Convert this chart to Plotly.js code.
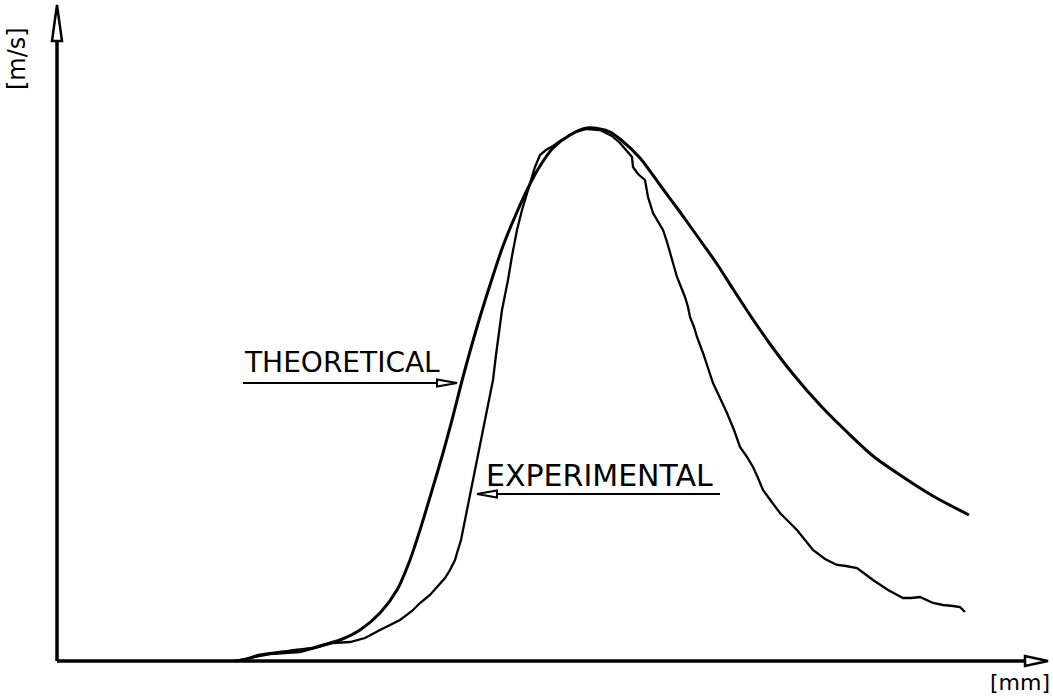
<!DOCTYPE html>
<html>
<head>
<meta charset="utf-8">
<script src="https://cdn.plot.ly/plotly-3.0.1.min.js"></script>
<style>
  html, body { margin: 0; padding: 0; background: #ffffff; }
  #chart { width: 1053px; height: 699px; }
</style>
</head>
<body>
<div id="chart"></div>
<script>
// Velocity profile along the measured section, distance in mm, velocity in m/s.
// Theoretical profile (smooth curve)
const theoX = [178, 186, 203, 233, 256, 266, 283, 303, 323, 340, 353, 363, 376, 386, 395, 406,
  420, 433, 446, 460, 473, 483, 496, 513, 530, 543, 553, 563, 583, 603, 623, 643, 660, 676,
  693, 713, 736, 763, 790, 816, 843, 876, 912];
const theoY = [0, 1, 6, 10, 13, 16, 21, 31, 48, 71, 101, 131, 174, 208, 241, 284,
  334, 376, 415, 449, 477, 495, 513, 526, 533, 532, 529, 522, 503, 476, 449, 421, 397, 372,
  346, 317, 287, 256, 229, 205, 186, 165, 146];

// Experimental profile (measured trace)
const expX = [178, 193, 213, 243, 266, 276, 293, 308, 323, 343, 355, 363, 373, 380, 388, 393,
  398, 400, 404, 406, 408, 410, 413, 416, 418, 421, 424, 428, 430, 433, 436, 439, 443, 445,
  448, 451, 455, 460, 465, 470, 474, 478, 483, 489, 496, 503, 510, 518, 530, 543, 555, 563,
  569, 575, 576, 581, 588, 590, 591, 596, 601, 606, 610, 613, 617, 620, 624, 628, 631, 633,
  637, 640, 646, 651, 656, 663, 670, 677, 683, 690, 696, 701, 706, 714, 723, 732, 740, 748,
  756, 768, 780, 789, 800, 808, 816, 831, 846, 854, 863, 876, 886, 896, 903, 908];
const expY = [0, 3, 7, 9, 15, 18, 19, 23, 31, 41, 50, 58, 66, 74, 83, 91,
  101, 108, 121, 131, 141, 151, 166, 181, 194, 208, 224, 241, 253, 268, 281, 306, 334, 351,
  366, 381, 405, 431, 451, 468, 481, 494, 506, 511, 515, 520, 524, 529, 532, 531, 525, 518,
  511, 504, 494, 487, 481, 471, 464, 448, 439, 431, 419, 408, 396, 384, 374, 364, 354, 344,
  334, 324, 308, 294, 278, 263, 248, 231, 214, 204, 194, 183, 171, 160, 148, 139, 131, 121,
  111, 102, 96, 95, 93, 87, 81, 71, 63, 63, 64, 58, 56, 55, 54, 49];

const seriesNames = ['THEORETICAL', 'EXPERIMENTAL'];
const unitX = '[mm]';
const unitY = '[m/s]';

const ink = '#000000';
const FONT = 'DejaVu Sans, Liberation Sans, sans-serif';

const traces = [
  {
    x: theoX, y: theoY, mode: 'lines', name: seriesNames[0],
    line: { color: ink, width: 3, shape: 'spline', smoothing: 0.8 },
    hoverinfo: 'skip'
  },
  {
    x: expX, y: expY, mode: 'lines', name: seriesNames[1],
    line: { color: ink, width: 2.3, shape: 'linear' },
    hoverinfo: 'skip'
  }
];

// open arrowhead outline, pointing along +/- direction
function headPath(tipX, tipY, dir, len, half, vertical) {
  if (vertical) {
    const by = tipY - dir * len;
    return `M ${tipX} ${tipY} L ${tipX + half} ${by} L ${tipX - half} ${by} Z`;
  }
  const bx = tipX - dir * len;
  return `M ${tipX} ${tipY} L ${bx} ${tipY + half} L ${bx} ${tipY - half} Z`;
}

const shapes = [
  // axes
  { type: 'line', x0: 0, y0: 0, x1: 972, y1: 0, line: { color: ink, width: 3.5 } },
  { type: 'line', x0: 0, y0: 0, x1: 0, y1: 628, line: { color: ink, width: 3.5 } },
  { type: 'path', path: headPath(991, 0, 1, 23, 5, false), fillcolor: '#ffffff', line: { color: ink, width: 2.5 } },
  { type: 'path', path: headPath(0, 656, 1, 36, 5, true), fillcolor: '#ffffff', line: { color: ink, width: 2.5 } },
  // label pointers
  { type: 'line', x0: 186, y0: 278, x1: 382, y1: 278, line: { color: ink, width: 2 } },
  { type: 'path', path: headPath(400, 278, 1, 20, 3.5, false), fillcolor: '#ffffff', line: { color: ink, width: 2 } },
  { type: 'line', x0: 438, y0: 167, x1: 663, y1: 167, line: { color: ink, width: 2 } },
  { type: 'path', path: headPath(420, 167, -1, 20, 3.5, false), fillcolor: '#ffffff', line: { color: ink, width: 2 } }
];

const annotations = [
  { x: 185, y: 299, text: seriesNames[0], showarrow: false, xanchor: 'left', yanchor: 'middle',
    font: { family: FONT, size: 28, color: ink } },
  { x: 427, y: 186, text: seriesNames[1], showarrow: false, xanchor: 'left', yanchor: 'middle',
    font: { family: FONT, size: 30, color: ink } },
  { x: -40, y: 602, text: unitY, showarrow: false, textangle: -90, xanchor: 'center', yanchor: 'middle',
    font: { family: FONT, size: 24, color: ink } },
  { x: 963, y: -21, text: unitX, showarrow: false, xanchor: 'center', yanchor: 'middle',
    font: { family: FONT, size: 22, color: ink } }
];

const layout = {
  width: 1053, height: 699,
  margin: { l: 0, r: 0, t: 0, b: 0, pad: 0 },
  paper_bgcolor: '#ffffff', plot_bgcolor: '#ffffff',
  showlegend: false,
  xaxis: { range: [-57, 996], visible: false, fixedrange: true },
  yaxis: { range: [-38, 661], visible: false, fixedrange: true },
  shapes: shapes,
  annotations: annotations
};

Plotly.newPlot('chart', traces, layout, { displayModeBar: false, staticPlot: true });
</script>
</body>
</html>
